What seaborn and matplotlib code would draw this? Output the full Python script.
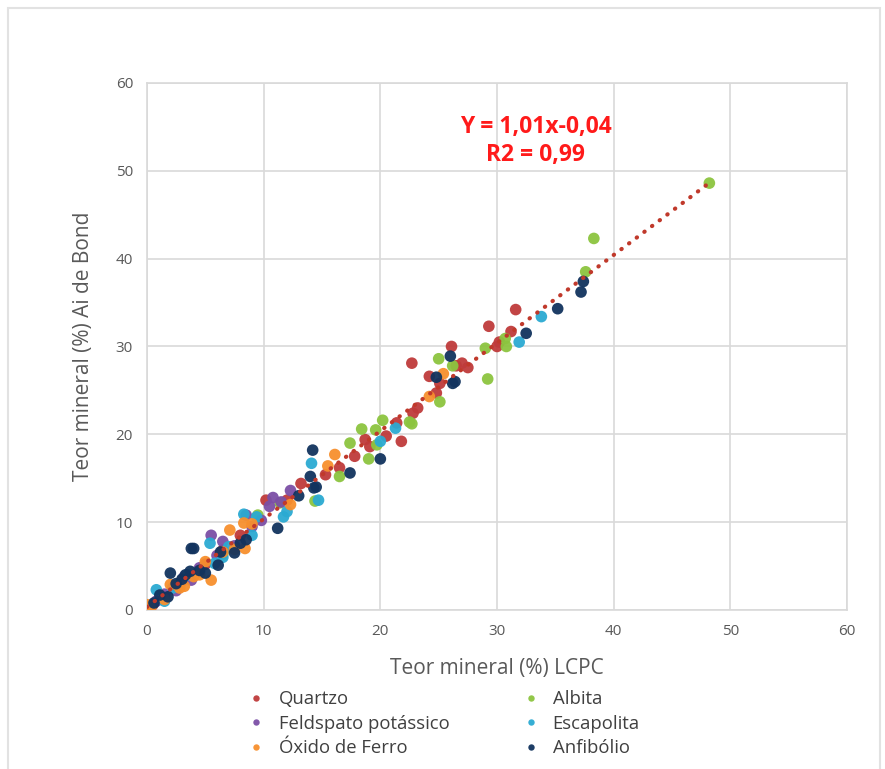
import pandas as pd
import matplotlib.pyplot as plt
from matplotlib.patches import Rectangle
import seaborn as sns

# values (x = LCPC, y = Ai de Bond), per mineral
quartzo_x = [29.3, 26.1, 30.0, 22.7, 27.0, 24.2, 25.1, 24.8, 23.2, 22.8, 21.4, 21.8, 18.7, 19.1, 17.8,
             15.3, 13.2, 10.2, 31.6, 31.2, 30.2, 27.5, 26.5, 8.0, 5.0, 3.0, 1.5, 6.5, 0.5, 12.0, 16.5, 20.5]
quartzo_y = [32.3, 30.0, 30.0, 28.1, 28.1, 26.6, 25.8, 24.7, 23.0, 22.4, 21.3, 19.2, 19.4, 18.6, 17.5,
             15.4, 14.4, 12.5, 34.2, 31.7, 30.5, 27.6, 27.8, 8.5, 5.2, 3.3, 1.4, 6.8, 0.6, 12.5, 16.2, 19.8]

albita_x = [48.2, 38.3, 37.6, 29.0, 25.0, 26.2, 29.2, 25.1, 22.7, 20.2, 19.6, 18.4, 17.4, 19.7, 19.0,
            16.5, 14.4, 11.4, 9.5, 30.7, 30.8, 22.5, 2.5, 6.5]
albita_y = [48.6, 42.3, 38.5, 29.8, 28.6, 27.8, 26.3, 23.7, 21.2, 21.6, 20.5, 20.6, 19.0, 18.8, 17.2,
            15.2, 12.4, 12.2, 10.8, 30.9, 30.0, 21.4, 2.8, 6.4]

feldspato_x = [12.3, 10.8, 10.5, 8.5, 5.5, 6.5, 3.8, 9.0, 7.5, 4.5, 2.5, 1.5, 9.8, 11.5, 6.0, 3.2, 0.8]
feldspato_y = [13.6, 12.8, 11.8, 10.8, 8.5, 7.8, 3.4, 9.5, 7.3, 4.8, 2.2, 1.8, 10.2, 12.3, 6.2, 3.8, 1.0]

escapolita_x = [21.3, 20.0, 14.1, 14.7, 11.7, 9.4, 33.8, 31.9, 8.3, 5.4, 5.8, 0.8, 12.0, 7.0, 3.5, 2.2,
                4.5, 9.0, 1.5, 6.5]
escapolita_y = [20.7, 19.2, 16.7, 12.5, 10.6, 10.6, 33.4, 30.5, 10.9, 7.6, 5.3, 2.3, 11.2, 7.2, 4.0, 2.5,
                4.3, 8.5, 1.0, 6.0]

oxido_x = [25.4, 24.2, 16.1, 15.5, 12.3, 8.3, 7.1, 8.4, 5.0, 5.5, 2.8, 0.0, 0.3, 4.0, 6.5, 3.2, 7.5,
           9.0, 1.5, 2.0, 4.5]
oxido_y = [26.9, 24.3, 17.7, 16.4, 12.0, 9.9, 9.1, 7.0, 5.5, 3.4, 2.5, 0.6, 0.2, 3.8, 6.6, 2.7, 6.9,
           9.8, 1.2, 2.9, 4.0]

anfibolio_x = [26.0, 24.8, 26.4, 14.2, 20.0, 17.4, 14.0, 14.3, 37.4, 37.2, 35.2, 32.5, 11.2, 3.8, 8.0,
               6.3, 6.1, 2.0, 3.7, 1.1, 4.0, 3.0, 2.5, 4.5, 5.0, 1.8, 0.6, 3.3, 8.5, 13.0, 7.5, 14.5, 26.2]
anfibolio_y = [28.9, 26.5, 26.0, 18.2, 17.2, 15.6, 15.2, 13.9, 37.4, 36.2, 34.3, 31.5, 9.3, 7.0, 7.6,
               6.6, 5.1, 4.2, 4.4, 1.7, 7.0, 3.5, 3.0, 4.5, 4.2, 1.5, 0.8, 4.0, 8.0, 13.0, 6.5, 14.0, 25.8]

minerals = ['Quartzo', 'Albita', 'Feldspato potássico', 'Escapolita', 'Óxido de Ferro', 'Anfibólio']
colors = ['#BF3B3B', '#8CC43F', '#7B4FA6', '#2BAAD2', '#F78F2D', '#12335E']

frames = []
for name, xs, ys in zip(minerals,
                        [quartzo_x, albita_x, feldspato_x, escapolita_x, oxido_x, anfibolio_x],
                        [quartzo_y, albita_y, feldspato_y, escapolita_y, oxido_y, anfibolio_y]):
    frames.append(pd.DataFrame({'lcpc': xs, 'bond': ys, 'mineral': name}))
df = pd.concat(frames, ignore_index=True)

sns.set_style('white')
plt.rcParams['font.family'] = ['Open Sans', 'DejaVu Sans']

fig = plt.figure(figsize=(8.85, 7.69), dpi=100)
ax = fig.add_axes([0.1661, 0.2068, 0.791, 0.6853])

sns.scatterplot(data=df, x='lcpc', y='bond', hue='mineral', hue_order=minerals,
                palette=dict(zip(minerals, colors)), s=70, edgecolor='none', alpha=0.95,
                ax=ax, zorder=3)
# Excel-like dotted linear trendline
sns.regplot(data=df, x='lcpc', y='bond', scatter=False, ci=None, ax=ax,
            line_kws={'color': '#C0392B', 'linestyle': (0, (0.1, 2.2)), 'linewidth': 3.0,
                      'dash_capstyle': 'round', 'zorder': 4})

ax.set_xlim(0, 60)
ax.set_ylim(0, 60)
ax.set_xticks(range(0, 61, 10))
ax.set_yticks(range(0, 61, 10))
ax.grid(True, color='#D9D9D9', linewidth=1.2)
ax.set_axisbelow(True)
for sp in ax.spines.values():
    sp.set_color('#D9D9D9')
    sp.set_linewidth(1.2)
ax.tick_params(length=0, labelsize=11, labelcolor='#595959', pad=10)

ax.set_xlabel('Teor mineral (%) LCPC', fontsize=15, color='#595959', labelpad=14)
ax.set_ylabel('Teor mineral (%) Ai de Bond', fontsize=15, color='#595959', labelpad=16)

ax.text(0.555, 0.89, 'Y = 1,01x-0,04\nR2 = 0,99', transform=ax.transAxes, ha='center',
        va='center', fontsize=16.5, fontweight='bold', color='#FF1A1A', linespacing=1.25)

handles, labels = ax.get_legend_handles_labels()
ax.get_legend().remove()
lookup = dict(zip(labels, handles))
order = ['Quartzo', 'Feldspato potássico', 'Óxido de Ferro', 'Albita', 'Escapolita', 'Anfibólio']
leg = fig.legend([lookup[k] for k in order], order, ncol=2, loc='upper left',
                 bbox_to_anchor=(0.25, 0.124), frameon=False, fontsize=13.3,
                 columnspacing=3.4, handletextpad=0.2, labelspacing=0.35, markerscale=0.55)
for t in leg.get_texts():
    t.set_color('#404040')

fig.patches.append(Rectangle((8 / 885, -0.05), 872 / 885, 1.05 - 8 / 769, transform=fig.transFigure,
                             fill=False, edgecolor='#E2E2E2', linewidth=1.5))

fig.savefig('out.png', dpi=100)
